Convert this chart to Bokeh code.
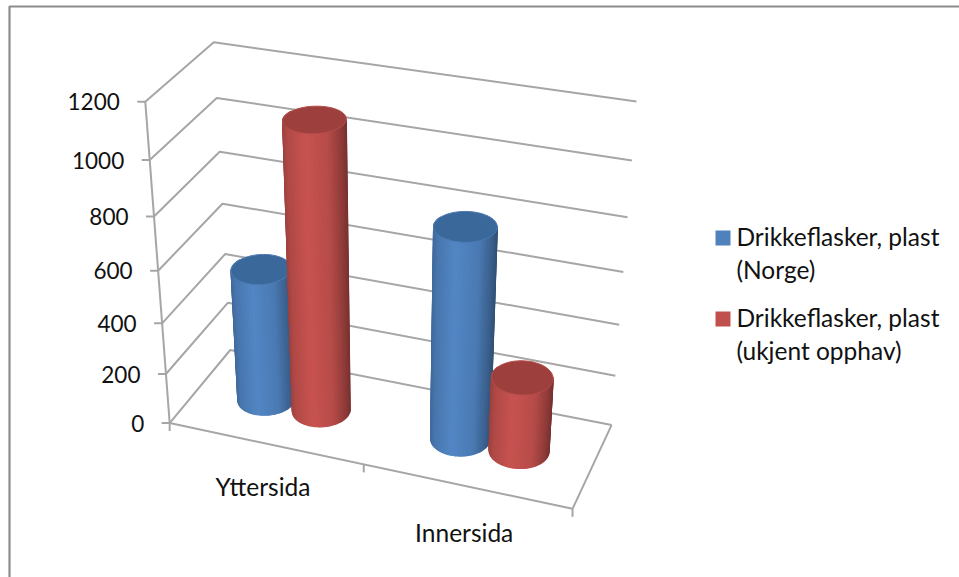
import numpy as np
from bokeh.plotting import figure
from bokeh.core.properties import value
from bokeh.embed import file_html
from bokeh.resources import INLINE

# ---- data
categories = ["Yttersida", "Innersida"]
series_lines = [["Drikkeflasker, plast", "(Norge)"], ["Drikkeflasker, plast", "(ukjent opphav)"]]
norge = [520, 810]
ukjent = [1100, 290]
ticks = [0, 200, 400, 600, 800, 1000, 1200]
series_colors = ["#4F81BD", "#C0504D"]
top_colors = ["#3A689B", "#9C3F3D"]

GRID = "#A6A6A6"
TEXT = "#111111"
FONT = "Lato"
FS = "24.5px"
FS_TICK = "22.5px"
ZMAX = 1200.0

# ---- camera: (u along categories, d depth, z/zmax) -> screen, fitted to the chart box
world = [(0,0,0),(0,0,1),(0,1,0),(0,1,1),(2,1,0),(2,1,1),(2,0,0)]
screen = [(169,423),(145,101),(230,349),(213,42),(611,425),(636,101),(572,508)]
A, b = [], []
for (U,D,Z),(X,Y) in zip(world, screen):
    A.append([U,D,Z,1,0,0,0,0,-X*U,-X*D,-X*Z]); b.append(X)
    A.append([0,0,0,0,U,D,Z,1,-Y*U,-Y*D,-Y*Z]); b.append(Y)
h = np.linalg.lstsq(np.array(A,float), np.array(b,float), rcond=None)[0]
H = np.append(h, 1.0).reshape(3,4)

def proj(u, d, z):
    u, d, z = np.broadcast_arrays(np.asarray(u,float), np.asarray(d,float), np.asarray(z,float)/ZMAX)
    w = H[2,0]*u + H[2,1]*d + H[2,2]*z + H[2,3]
    return (H[0,0]*u + H[0,1]*d + H[0,2]*z + H[0,3])/w, (H[1,0]*u + H[1,1]*d + H[1,2]*z + H[1,3])/w

p = figure(width=959, height=577, x_range=(0,959), y_range=(577,0), output_backend="svg",
           toolbar_location=None, min_border=0, margin=(0,0,0,0))
p.axis.visible = False
p.grid.visible = False
p.outline_line_color = None
p.background_fill_color = "white"

# outer frame (top and left only visible)
p.line([9,9,959],[577,6,6], line_color="#8C8C8C", line_width=2.2)

# walls
for t in ticks:
    xs, ys = proj([0,0,2],[0,1,1],[t,t,t])
    p.line(xs, ys, line_color=GRID, line_width=2)
    x0, y0 = proj(0,0,t)
    p.line([x0-8, x0],[y0, y0], line_color=GRID, line_width=2)
    p.text([x0-25.5],[y0], text=[str(t)], text_align="right", text_baseline="middle",
           text_font=value(FONT), text_font_size=FS_TICK, text_color=TEXT)
xs, ys = proj([0,0],[0,0],[0,ZMAX]); p.line(xs, ys, line_color=GRID, line_width=2)
xs, ys = proj([0,2,2],[0,0,1],[0,0,0]); p.line(xs, ys, line_color=GRID, line_width=2)
for u in range(3):
    x0, y0 = proj(u,0,0)
    p.line([x0,x0],[y0,y0+8], line_color=GRID, line_width=2)
for i, c in enumerate(categories):
    x0, y0 = proj(i+0.5,0,0)
    p.text([x0-2],[y0+43+i*3], text=[c], text_align="center", text_baseline="middle",
           text_font=value(FONT), text_font_size=FS, text_color=TEXT)

def shade(col, f):
    r = [int(col[i:i+2],16) for i in (1,3,5)]
    return "#%02x%02x%02x" % tuple(int(min(255,max(0,v*f))) for v in r)

RU, RD = 0.14, 0.205
def cylinder(uc, dc, val, col, top):
    th = np.linspace(np.pi-0.35, 2*np.pi+0.35, 49)
    cu, cd = uc+RU*np.cos(th), dc+RD*np.sin(th)
    xb, yb = proj(cu, cd, 0)
    xt, yt = proj(cu, cd, val)
    xl, xr = xb.min(), xb.max()
    order = np.argsort(np.abs(th[:-1]-1.5*np.pi))[::-1]
    qx, qy, cols = [], [], []
    for i in order:
        qx.append([xb[i],xb[i+1],xt[i+1],xt[i]])
        qy.append([yb[i],yb[i+1],yt[i+1],yt[i]])
        s = np.clip((xb[i]+xb[i+1])/2, xl, xr)
        t = (s-xl)/(xr-xl)
        cols.append(shade(col, np.interp(t,[0,.08,.35,.7,.9,1],[.82,.92,1.04,.95,.75,.62])))
    p.patches(qx, qy, fill_color=cols, line_color=cols, line_width=1.2)
    a = np.linspace(0,2*np.pi,72)
    x, y = proj(uc+RU*np.cos(a), dc+RD*np.sin(a), val)
    p.patch(x, y, fill_color=top, line_color=shade(col,.95), line_width=1)

for i in range(len(categories)):
    cylinder(i+0.355, 0.5, norge[i], series_colors[0], top_colors[0])
    cylinder(i+0.645, 0.5, ukjent[i], series_colors[1], top_colors[1])

# legend
for i, (lines, col) in enumerate(zip(series_lines, series_colors)):
    y0 = 237.5 + i*81
    p.rect([722.5],[y0], width=15, height=15, fill_color=col, line_color=None)
    for j, s in enumerate(lines):
        p.text([736],[y0-1.5+j*33], text=[s], text_align="left", text_baseline="middle",
               text_font=value(FONT), text_font_size=FS, text_color=TEXT)

open("out.html","w").write(file_html(p, INLINE))
